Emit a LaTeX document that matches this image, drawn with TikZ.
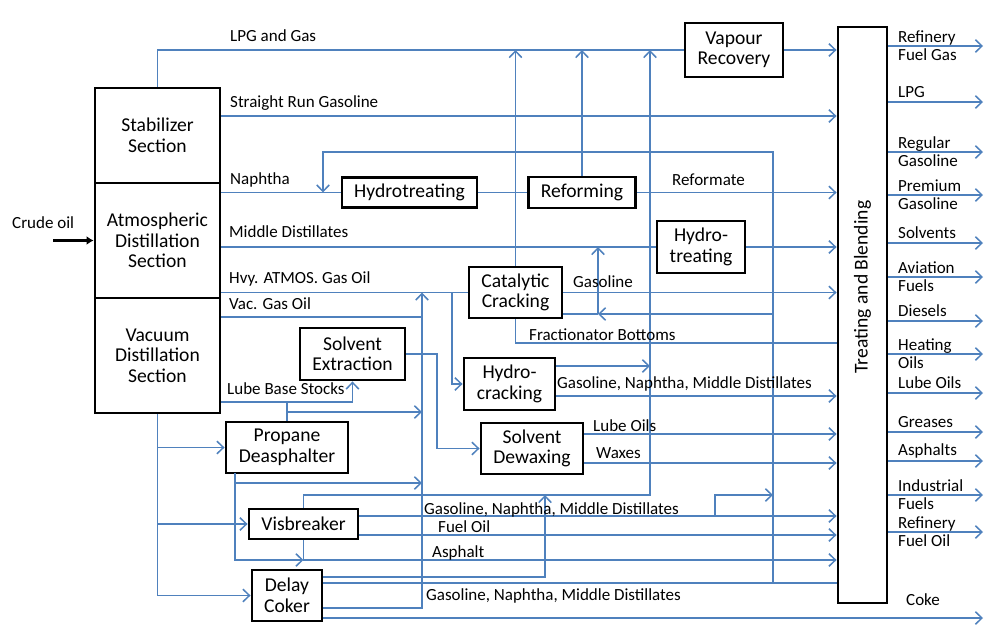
\documentclass[tikz,border=0pt]{standalone}
\usepackage{fontspec}
\setmainfont{Carlito}
\usepackage{tikz}
\usetikzlibrary{positioning,arrows.meta}
\definecolor{flowblue}{RGB}{79,129,189}
\newcommand*{\xOut}{983}
\newcommand*{\xLab}{898}

\tikzset{
    unit/.style={draw=black, line width=2.9pt, align=center, inner sep=0pt,
        font=\fontsize{19.6}{20.5}\selectfont},
    flow/.style={draw=flowblue, line width=1.5pt},
    arr/.style={flow, -{Straight Barb[length=6.5pt,width=12.5pt]}},
    lab/.style={anchor=west, inner sep=0pt, font=\fontsize{17}{18}\selectfont},
    outlab/.style={lab, align=left},
}

\begin{document}
\begin{tikzpicture}[x=1pt, y=-1pt]
    \useasboundingbox (0,0) rectangle (1007,629);

    % distillation column
    \node[unit, minimum width=125pt, minimum height=95pt] (stab) at (157.5,135.5) {Stabilizer\\Section};
    \node[unit, minimum width=125pt, minimum height=115pt] (atm) at (157.5,240.5) {Atmospheric\\Distillation\\Section};
    \node[unit, minimum width=125pt, minimum height=115pt] (vac) at (157.5,355.5) {Vacuum\\Distillation\\Section};

    % process units
    \node[unit, minimum width=98pt, minimum height=54pt] (vapour) at (734,50) {Vapour\\Recovery};
    \node[unit, minimum width=135pt, minimum height=30pt] (hydro) at (409.5,192.5) {Hydrotreating};
    \node[unit, minimum width=107pt, minimum height=31pt] (reform) at (582,192.5) {Reforming};
    \node[unit, minimum width=88pt, minimum height=52pt] (hydrotwo) at (701,247) {Hydro-\\treating};
    \node[unit, minimum width=93pt, minimum height=51pt] (catcrack) at (515.5,292.5) {Catalytic\\Cracking};
    \node[unit, minimum width=91pt, minimum height=52pt] (hydrocrack) at (509.5,384) {Hydro-\\cracking};
    \node[unit, minimum width=105pt, minimum height=52pt] (solvext) at (352.5,354) {Solvent\\Extraction};
    \node[unit, minimum width=102pt, minimum height=51pt] (dewax) at (532,448.5) {Solvent\\Dewaxing};
    \node[unit, minimum width=122pt, minimum height=51pt] (propane) at (287,447.5) {Propane\\Deasphalter};
    \node[unit, minimum width=109pt, minimum height=30pt] (visb) at (303.5,524) {Visbreaker};
    \node[unit, minimum width=70pt, minimum height=51pt] (coker) at (287,595.5) {Delay\\Coker};
    \node[unit, minimum width=49pt, minimum height=576pt] (treat) at (862.5,315) {};
    \node[rotate=90, font=\fontsize{19.6}{20.5}\selectfont] (treatlab) at (862.5,287) {Treating and Blending};

    % junctions
    \coordinate (crude) at (53,240.5);
    \coordinate (hcfeed) at (452,292.5);
    \coordinate (fracup) at (598,314);
    \coordinate (vgo) at (422,317);
    \coordinate (sxdown) at (437,0);
    \coordinate (gasriser) at (650,495);
    \coordinate (ckup) at (545,495);
    \coordinate (cokerise) at (773,583);
    \coordinate (retdown) at (323,152);
    \coordinate (pdout) at (235,473);
    \coordinate (vbsplit) at (715,516);

    \draw[black, line width=2.2pt, -{Latex[length=7pt,width=9pt]}] (crude) -- (atm.west);

    % stabilizer
    \draw[flow] (stab.north) |- (vapour.west);
    \draw[arr] (vapour.east) -- (vapour.east -| treat.west);
    \draw[arr] (stab.east |- 0,116) -- (treat.west |- 0,116);

    % atmospheric cuts
    \draw[flow] (atm.east |- hydro.west) -- (hydro.west);
    \draw[flow] (hydro.east) -- (reform.west);
    \draw[arr] (reform.east) -- (reform.east -| treat.west);
    \draw[arr] (reform.north) -- (reform.north |- vapour.west);
    \draw[flow] (atm.east |- hydrotwo.west) -- (hydrotwo.west);
    \draw[arr] (hydrotwo.east) -- (hydrotwo.east -| treat.west);
    \draw[flow] (atm.east |- catcrack.west) -- (catcrack.west);
    \draw[arr] (hcfeed) |- (hydrocrack.west);
    \draw[arr] (catcrack.north) -- (catcrack.north |- vapour.west);
    \draw[arr] (catcrack.east) -- (catcrack.east -| treat.west);
    \draw[flow] (catcrack.east |- fracup) -- (fracup);
    \draw[arr] (cokerise |- fracup) -- (fracup);
    \draw[arr] (fracup) -- (fracup |- hydrotwo.west);
    \draw[flow] (catcrack.south) |- (treat.west |- 0,343);

    % vacuum cuts
    \draw[flow] (vac.east |- vgo) -- (vgo);
    \draw[arr] (coker.east |- 0,608) -| (vgo |- catcrack.west);
    \draw[arr] (vac.east |- 0,402) -| (solvext.south);
    \draw[flow] (propane.north) -- (propane.north |- 0,402);
    \draw[arr] (propane.north |- 0,412) -- (vgo |- 0,412);
    \draw[arr] (solvext.east) -| (sxdown |- dewax.west) -- (dewax.west);
    \draw[arr] (hydrocrack.east |- 0,366) -- (gasriser |- 0,366);
    \draw[arr] (hydrocrack.east |- 0,396) -- (treat.west |- 0,396);
    \draw[arr] (dewax.east |- 0,434) -- (treat.west |- 0,434);
    \draw[arr] (dewax.east |- 0,463) -- (treat.west |- 0,463);

    % residue
    \draw[arr] (vac.south) |- (coker.west);
    \draw[arr] (vac.south |- propane.west) -- (propane.west);
    \draw[arr] (vac.south |- visb.west) -- (visb.west);
    \draw[arr] (pdout) |- (visb.south |- 0,560);
    \draw[arr] (pdout |- 0,483) -- (vgo |- 0,483);
    \draw[arr] (visb.south) |- (treat.west |- 0,560);
    \draw[arr] (visb.north) |- (gasriser) -- (gasriser |- vapour.west);
    \draw[arr] (visb.east |- vbsplit) -- (treat.west |- vbsplit);
    \draw[arr] (vbsplit) |- (cokerise |- gasriser);
    \draw[arr] (visb.east |- 0,535) -- (treat.west |- 0,535);
    \draw[arr] (coker.east |- 0,577) -| (ckup);
    \draw[flow] (coker.east |- cokerise) -- (treat.west |- cokerise);
    \draw[arr] (cokerise) |- (retdown) -- (retdown |- hydro.west);
    \draw[arr] (coker.east |- 0,618) -- (\xOut,618);

    % products
    \foreach \y in {46,102,152,195,243,277,321,354,393,432,461,495,532} {
        \coordinate (out\y) at (\xOut,\y);
        \draw[arr] (treat.east |- out\y) -- (out\y);
    }
    \foreach \y/\txt in {46/Refinery\\Fuel Gas, 152/Regular\\Gasoline, 195/Premium\\Gasoline,
        277/Aviation\\Fuels, 354/Heating\\Oils, 495/Industrial\\Fuels, 532/Refinery\\Fuel Oil} {
        \node[outlab] (lab\y) at (\xLab,\y) {\txt};
    }
    \foreach \y/\txt in {102/LPG, 243/Solvents, 321/Diesels, 393/Lube Oils, 432/Greases, 461/Asphalts} {
        \node[outlab] (lab\y) at (\xLab,\y-10) {\txt};
    }

    % stream labels
    \node[lab] (crudelab) at (12,223) {Crude oil};
    \node[lab] (lpgas) at (230,36) {LPG and Gas};
    \node[lab] (srglab) at (230,103) {Straight Run Gasoline};
    \node[lab] (naplab) at (230,180) {Naphtha};
    \node[lab] (midlab) at (229,232) {Middle Distillates};
    \node[lab] (hagolab) at (229,279) {Hvy. ATMOS. Gas Oil};
    \node[lab] (vgolab) at (229,304) {Vac. Gas Oil};
    \node[lab] (lbslab) at (227,389) {Lube Base Stocks};
    \node[lab] (reflab) at (672,180) {Reformate};
    \node[lab] (cclab) at (573,282) {Gasoline};
    \node[lab] (fblab) at (529,335) {Fractionator Bottoms};
    \node[lab] (hclab) at (557,384) {Gasoline, Naphtha, Middle Distillates};
    \node[lab] (lolab) at (593,426) {Lube Oils};
    \node[lab] (wxlab) at (596,453) {Waxes};
    \node[lab] (vblab) at (424,510) {Gasoline, Naphtha, Middle Distillates};
    \node[lab] (folab) at (438,527) {Fuel Oil};
    \node[lab] (aslab) at (432,553) {Asphalt};
    \node[lab] (dclab) at (426,596) {Gasoline, Naphtha, Middle Distillates};
    \node[lab] (cokelab) at (906,600) {Coke};
\end{tikzpicture}
\end{document}
